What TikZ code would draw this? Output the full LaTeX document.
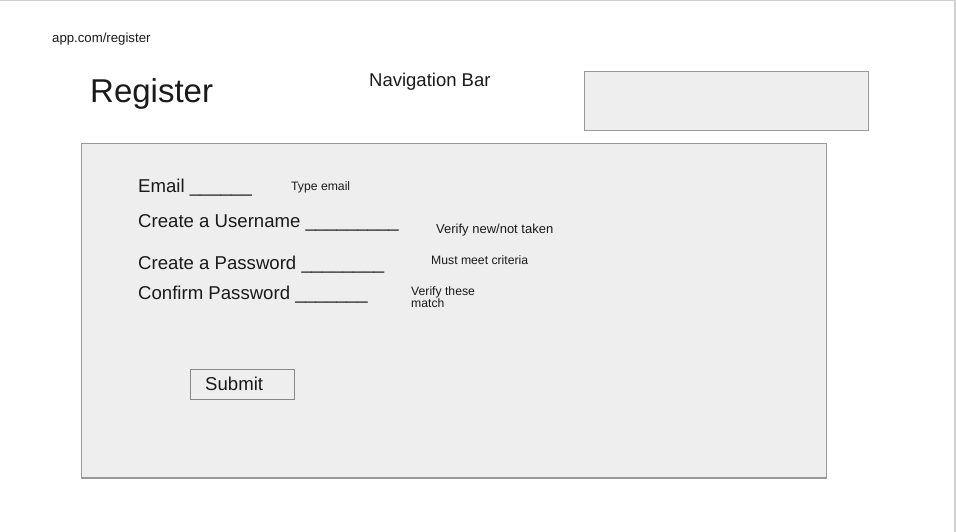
\documentclass[tikz,border=0pt]{standalone}
\usepackage{fontspec}
\setmainfont{Liberation Sans}
\definecolor{boxfill}{HTML}{EEEEEE}
\definecolor{boxline}{HTML}{999999}
\definecolor{btnline}{HTML}{888888}
\definecolor{pageline}{HTML}{D0D0D0}
\definecolor{txt}{HTML}{1A1A1A}
\tikzset{
  panel/.style={draw=boxline, fill=boxfill, line width=1.5pt, anchor=north west, inner sep=0pt},
  lbl/.style={anchor=base west, inner sep=0pt, text=txt},
  big/.style={lbl, font=\fontsize{18.6}{20}\selectfont},
  small/.style={lbl, font=\fontsize{12.2}{13}\selectfont},
  btn/.style={draw=btnline, fill=boxfill, line width=1pt, minimum width=104pt, minimum height=30pt, inner sep=0pt, anchor=north west}
}
\begin{document}
\begin{tikzpicture}[x=1pt,y=-1pt]
\useasboundingbox (0,0) rectangle (956,532);
\fill[white] (0,0) rectangle (956,532);
% page frame (top and right edges visible)
\coordinate (ptl) at (0,0.75);
\coordinate (ptr) at (955,0.75);
\coordinate (pbr) at (955,532);
\draw[pageline, line width=1.5pt] (ptl) -- (ptr) -- (pbr);
% url
\node[lbl, font=\fontsize{13.2}{14}\selectfont] (url) at (52,43) {app.com/register};
% title
\node[lbl, font=\fontsize{33}{36}\selectfont] (title) at (90,103) {Register};
\node[lbl, font=\fontsize{18.5}{20}\selectfont] (nav) at (369,87) {Navigation Bar};
% nav box
\node[panel, minimum width=284pt, minimum height=59pt] (navbox) at (583.5,71) {};
% main panel
\node[panel, minimum width=745pt, minimum height=334pt] (main) at (80.5,143) {};
% fields
\node[big] (email) at (138,193) {Email \_\_\_\_\_\_};
\node[small] (emailnote) at (291,190) {Type email};
\node[big] (user) at (138,227) {Create a Username \_\_\_\_\_\_\_\_\_};
\node[small, font=\fontsize{13}{14}\selectfont] (usernote) at (436,233) {Verify new/not taken};
\node[big] (pass) at (138,269) {Create a Password \_\_\_\_\_\_\_\_};
\node[small] (passnote) at (431,264.5) {Must meet criteria};
\node[big] (conf) at (138,299) {Confirm Password \_\_\_\_\_\_\_};
\node[small] (confnote1) at (411,295) {Verify these};
\node[small] (confnote2) at (411,307.5) {match};
% submit
\node[btn] (submit) at (190,369) {};
\node[big] (submittext) at (205,390.5) {Submit};
\end{tikzpicture}
\end{document}
